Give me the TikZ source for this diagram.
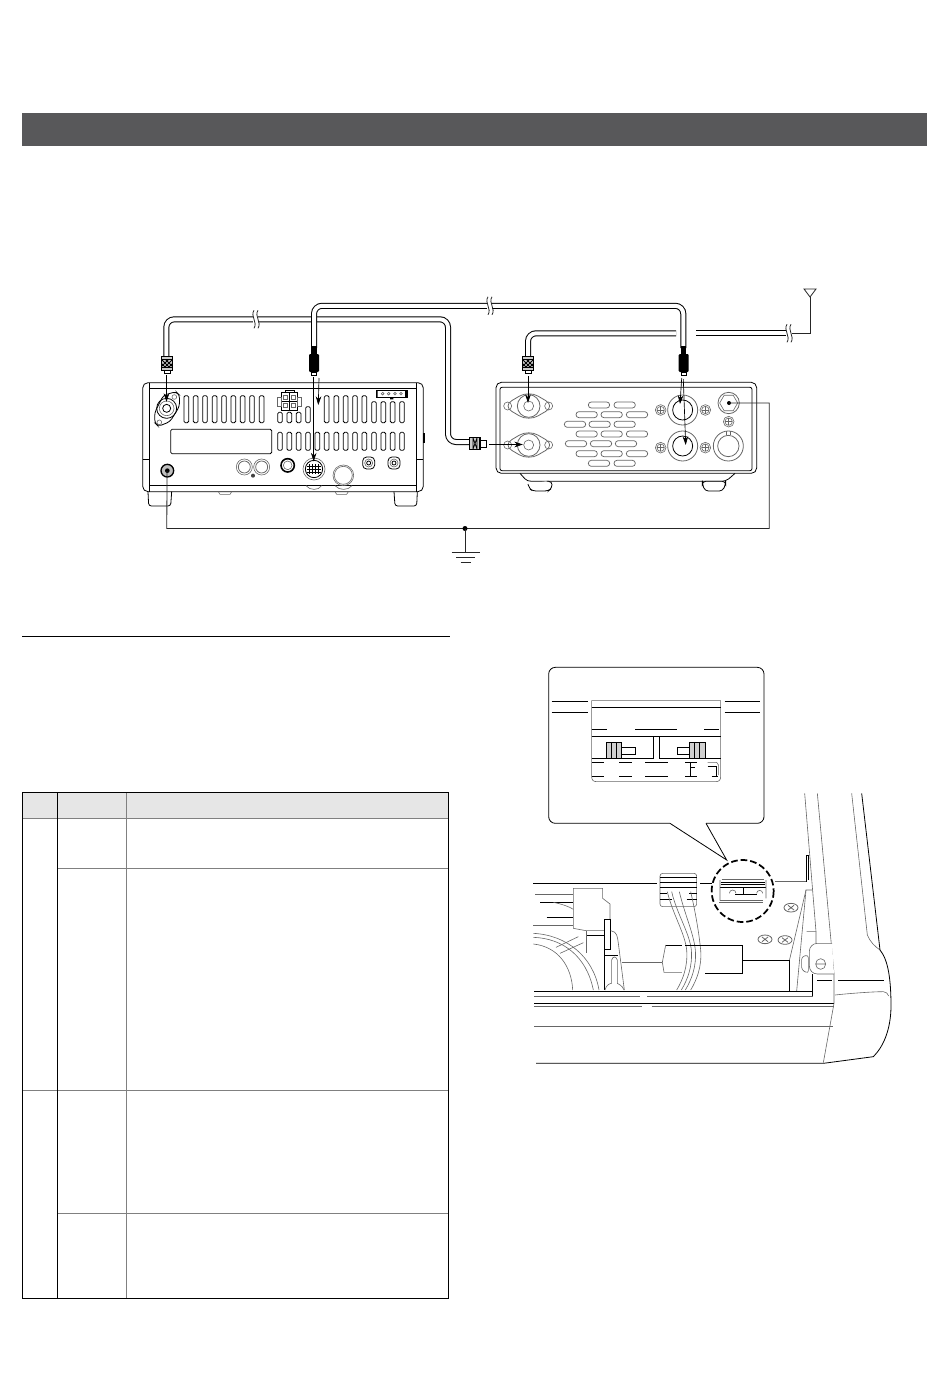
\documentclass[tikz,border=0pt]{standalone}
\usepackage{amsmath}
\usetikzlibrary{arrows.meta}
\definecolor{bandgray}{HTML}{58585A}
\definecolor{headgray}{HTML}{E6E6E6}
\definecolor{rulegray}{HTML}{808080}
\definecolor{fillgray}{HTML}{D0D0D0}
\tikzset{
  panel/.style={draw=black,line width=.6pt},
  fine/.style={draw=black!60,line width=.45pt},
  cable/.style={draw=black,line width=.75pt,double=white,double distance=3pt,rounded corners=6pt},
  wire/.style={draw=black!85,line width=.6pt},
  lead/.style={draw=black,line width=.5pt,-{Stealth[length=6.5pt,width=4.2pt]}},
}
\newcommand{\cablebreak}[2]{%
  \fill[white,shift={(#1,#2)}] (-2.5,-6) rectangle (2.5,6);
  \draw[wire,shift={(#1,#2)}] (-1,-9) .. controls (-5,-3) and (3,3) .. (-1,9);
  \draw[wire,shift={(#1,#2)}] (3,-9) .. controls (-1,-3) and (7,3) .. (3,9);
}
\begin{document}
\begin{tikzpicture}[x=.75pt,y=-.75pt]
\useasboundingbox (0,0) rectangle (950,1387);

% title band and rule
\fill[bandgray] (22,113) rectangle (927,146);
\draw[black,line width=.6pt] (22,636) -- (450,636);

% table
\fill[headgray] (22,792) rectangle (448,818);
\draw[rulegray,line width=.6pt] (22,818) -- (448,818) (57,868) -- (448,868) (22,1090) -- (448,1090) (57,1213) -- (448,1213) (126,792) -- (126,1298);
\draw[black,line width=.6pt] (22,792) rectangle (448,1298) (57,792) -- (57,1298);

% ---- left radio, rear view
\begin{scope}[shift={(120,280)},x=.25pt,y=-.25pt]
  \draw[panel,rounded corners=4pt] (68,308) rectangle (910,635);
  \draw[panel] (88,308) -- (88,635) (890,308) -- (890,635) (88,325) -- (890,325) (88,617) -- (890,617);
  \draw[panel] (68,538) -- (88,538) (890,538) -- (910,538);
  \fill[black] (910,458) rectangle (915,490);
  % feet
  \draw[panel,rounded corners=2pt] (84,635) -- (86,678) -- (152,678) -- (155,635);
  \draw[panel,rounded corners=2pt] (822,635) -- (825,678) -- (890,678) -- (892,635);
  \draw[fine] (295,635) -- (300,643) -- (330,643) -- (335,635) (645,635) -- (650,643) -- (680,643) -- (685,635);
  \draw[fine] (558,617) .. controls (570,632) and (595,632) .. (605,617) (645,617) .. controls (658,632) and (684,632) .. (696,617);
  % vents
  \foreach \vx in {192,220,248,277,305,333,361,389,418,613,642,670,698,726}
    \draw[panel,rounded corners=1pt] (\vx,347) rectangle ++(14,81);
  \foreach \vx in {755,783,811,839}
    \draw[panel,rounded corners=1pt] (\vx,365) rectangle ++(14,63);
  \draw[panel,rounded corners=1pt] (557,380) rectangle ++(14,48);
  \foreach \vx in {473,501,529}
    \draw[panel,rounded corners=1pt] (\vx,397) rectangle ++(14,31);
  \foreach \vx in {473,501,529,557,585,613,642,670,698,726,755,783,811,839}
    \draw[panel,rounded corners=1pt] (\vx,457) rectangle ++(14,54);
  \draw[panel,rounded corners=1pt] (152,448) rectangle (455,521);
  % antenna socket
  \draw[panel,rounded corners=2.5pt] (104,398) -- (130,346) -- (168,335) -- (179,346) -- (178,380) -- (150,425) -- (115,439) -- (104,428) -- cycle;
  \draw[panel] (140,385) circle [radius=30];
  \draw[fine] (140,385) circle [radius=22];
  \draw[panel] (140,385) circle [radius=12];
  \draw[fine] (163,351) circle [radius=7] (118,427) circle [radius=7];
  % dc socket
  \draw[panel] (484,338) rectangle (533,390) (508,338) -- (508,390) (484,364) -- (533,364);
  \draw[panel] (497,330) rectangle (522,338);
  \draw[fine] (471,352) rectangle (484,378) (533,352) rectangle (545,378);
  \foreach \px/\py in {490,514}{
    \draw[fine] (\px,345) rectangle ++(13,13);
    \draw[fine] (\px,370) rectangle ++(13,13);
  }
  % small block
  \draw[panel] (768,330) rectangle (862,352);
  \fill[black] (768,330) rectangle (773,352) (855,330) rectangle (862,352) (810,352) rectangle (820,358);
  \foreach \px in {788,806,825,843}
    \draw[fine] (\px,341) circle [radius=4];
  % lower row
  \draw[panel,line width=1pt,fill=black!25] (142,572) circle [radius=19];
  \fill[black] (142,572) circle [radius=7];
  \foreach \px in {373,425}{
    \draw[fine] (\px,561) circle [radius=24];
    \draw[fine,line width=.6pt] (\px,561) circle [radius=18];
  }
  \fill[black!75] (399,587) circle [radius=6];
  \draw[panel,line width=1.2pt] (503,556) circle [radius=20];
  \draw[fine] (503,556) circle [radius=13];
  \draw[fine] (582,567) circle [radius=33];
  \draw[panel] (582,567) circle [radius=26];
  \foreach \px in {568,577,586,595}
    \draw[panel] (\px,553) -- (\px,582);
  \foreach \py in {558,567,576}
    \draw[panel] (562,\py) -- (602,\py);
  \draw[fine] (670,586) circle [radius=31];
  \draw[fine] (670,586) circle [radius=27];
  \foreach \px in {746,822}{
    \draw[panel,rounded corners=3pt] (\px-18,531) rectangle (\px+18,567);
    \draw[fine] (\px,549) circle [radius=12];
    \draw[panel] (\px,549) circle [radius=6];
  }
\end{scope}

% ---- right tuner, rear view
\begin{scope}[shift={(450,280)},x=.25pt,y=-.25pt]
  \draw[panel,rounded corners=4pt] (138,307) rectangle (920,580);
  \draw[panel,rounded corners=1.5pt] (150,322) rectangle (906,572);
  % feet
  \draw[panel] (210,580) .. controls (222,592) and (226,604) .. (245,604) -- (810,604) .. controls (835,604) and (840,592) .. (855,580);
  \draw[panel,fill=white,rounded corners=2.5pt] (234,612) -- (238,626) -- (248,633) -- (295,633) -- (306,624) -- (306,604) -- (290,604);
  \draw[panel,fill=white,rounded corners=2.5pt] (757,612) -- (765,633) -- (818,633) -- (827,612) -- (827,604) -- (757,604) -- cycle;
  % sockets
  \foreach \fy in {378,495}{
    \draw[fine,line width=.6pt,rounded corners=8pt] (158,\fy) -- (236,\fy-46) -- (315,\fy) -- (236,\fy+46) -- cycle;
    \draw[fine] (173,\fy) circle [radius=12] (296,\fy) circle [radius=12];
    \draw[fine,line width=.6pt] (236,\fy) circle [radius=34];
    \draw[fine] (236,\fy) circle [radius=15];
  }
  % vent pills
  \foreach \py/\rowx in {375/{447,524},404/{410,485,561},433/{375,449,524},462/{410,485,561},491/{378,453,528},521/{410,485,561},550/{447,524}}
    \foreach \px in \rowx
      \draw[fine,line width=.55pt,rounded corners=2.2pt] ({\px-32},{\py-9}) rectangle ({\px+32},{\py+9});
  % right sockets
  \foreach \py in {390,498}{
    \draw[fine,line width=.6pt] (698,\py) circle [radius=45];
    \draw[panel] (698,\py) circle [radius=30];
  }
  \foreach \sx/\sy in {632/390,766/390,632/503,766/503,836/425}{
    \draw[fine] (\sx,\sy) circle [radius=16] (\sx,\sy) circle [radius=11];
    \draw[fine] ({\sx-11},\sy) -- ({\sx+11},\sy) (\sx,{\sy-11}) -- (\sx,{\sy+11});
  }
  \draw[fine,line width=.6pt] (836,369) circle [radius=32];
  \draw[fine,shift={(836,369)}] (0:27) -- (60:27) -- (120:27) -- (180:27) -- (240:27) -- (300:27) -- cycle;
  \draw[fine,line width=.6pt] (835,498) circle [radius=45];
  \draw[fine,line width=.6pt] (835,498) circle [radius=32];
  \draw[fine] (828,453) -- (828,466) (842,453) -- (842,466);
\end{scope}

% named ends of the leads and cables
\coordinate (antLeft) at (166.5,402);
\coordinate (antTop) at (528,403);
\coordinate (antBot) at (523,444.5);
\coordinate (acc) at (318.3,405);
\coordinate (din) at (313.7,461.5);
\coordinate (sockA) at (680,404);
\coordinate (sockB) at (685.7,445);
\coordinate (gndL) at (167,471);
\coordinate (gndR) at (729,403);
\coordinate (gndDot) at (465,528.5);
\coordinate (mast) at (810,297);

% coax from left radio to tuner
\draw[cable] (166.3,358) -- (166.3,319.3) -- (448,319.3) -- (448,442) -- (470,442);
\cablebreak{255}{319.3}
% coax from tuner to antenna
\draw[cable] (528,358) -- (528,333.3) -- (676,333.3);
\draw[cable] (696,333.3) -- (790,333.3);
\cablebreak{788}{333.3}
\draw[wire] (792,333.3) -- (810,333.3) -- (mast);
\draw[wire,fill=white] (mast) -- (804,289) -- (816,289) -- cycle;
% control cable
\draw[cable] (314,348) -- (314,305.8) -- (683.3,305.8) -- (683.3,348);
\cablebreak{489}{305.8}

% plugs
\foreach \cx/\cy in {167/363.5,528/363.5}{
  \draw[panel,fill=white,shift={(\cx,\cy)}] (-3,7) rectangle (3,10);
  \draw[panel,fill=black!20,line width=.8pt,shift={(\cx,\cy)}] (-5.5,-7) rectangle (5.5,7);
  \draw[panel,shift={(\cx,\cy)}] (-5.5,-4) -- (5.5,-4) (-5.5,4) -- (5.5,4) (-5.5,-4) -- (2.5,4) (5.5,-4) -- (-2.5,4) (-5.5,0) -- (-1.5,4) (5.5,0) -- (1.5,4) (-1.5,-4) -- (5.5,3) (1.5,-4) -- (-5.5,3);
}
\draw[panel,fill=white] (480,440.5) rectangle (486.5,447);
\draw[panel,fill=black!20,line width=.8pt] (469.5,437.5) rectangle (480,449.5);
\draw[panel] (473,437.5) -- (473,449.5) (477,437.5) -- (477,449.5) (473,438) -- (477,449) (477,438) -- (473,449);
\foreach \cx in {314,683.7}{
  \fill[black] (\cx-2.7,346) rectangle (\cx+2.7,356);
  \fill[black,rounded corners=.8pt] (\cx-5,354) rectangle (\cx+5,372);
  \draw[panel,fill=white] (\cx-2.7,372) rectangle (\cx+2.7,375);
}

% leads
\draw[lead] (166.5,375) -- (antLeft);
\draw[lead] (528,376) -- (antTop);
\draw[lead] (489,444.5) -- (antBot);
\draw[lead] (319,378) -- (acc);
\draw[lead] (313.7,377) -- (din);
\draw[lead] (681.7,378) -- (sockA);
\draw[lead] (683.3,379) -- (sockB);

% ground wire
\fill[black] (gndR) circle (2);
\draw[wire] (gndR) -- (769.3,403) -- (769.3,528.5) -- (gndDot) -- (166.8,528.5) -- (gndL);
\fill[black] (gndDot) circle (2.5);
\draw[wire] (gndDot) -- (465,552.5);
\draw[wire] (451.5,552.5) -- (479.5,552.5) (456,557.5) -- (475,557.5) (460.5,562.5) -- (470.5,562.5);

% ---- open case with detail
\begin{scope}[shift={(530,660)},x=.25pt,y=-.25pt]
  % callout
  \draw[panel,fill=white,rounded corners=5pt] (56,22) rectangle (702,490);
  \fill[white] (421,485) rectangle (527,495);
  \draw[panel] (420,490) -- (590,600) -- (528,490);
  % switch window
  \draw[fine] (185,122) -- (185,350) .. controls (185,360) and (190,365) .. (200,365) -- (557,365) .. controls (567,365) and (572,360) .. (572,350) -- (572,122) -- cycle;
  \draw[panel] (65,124) -- (175,124) (65,158) -- (175,158) (584,124) -- (690,124) (584,158) -- (690,158);
  \draw[panel] (185,142) -- (572,142) (185,208) -- (230,208) (315,208) -- (440,208) (522,208) -- (568,208);
  \draw[panel] (185,230) -- (572,230) (185,295) -- (370,295) -- (370,230) (388,230) -- (388,295) -- (572,295);
  \draw[panel,fill=fillgray] (228,248) rectangle (275,295);
  \draw[panel] (244,248) -- (244,295) (259,248) -- (259,295);
  \draw[panel] (275,262) rectangle (315,282);
  \draw[panel,fill=fillgray] (478,248) rectangle (525,295);
  \draw[panel] (494,248) -- (494,295) (509,248) -- (509,295);
  \draw[panel] (442,262) rectangle (478,282);
  \foreach \ly in {307,350}
    \draw[panel] (187,\ly) -- (222,\ly) (268,\ly) -- (305,\ly) (345,\ly) -- (415,\ly) (465,\ly) -- (500,\ly);
  \draw[panel] (480,307) -- (480,350) (480,322) -- (496,322);
  \draw[panel] (533,320) -- (558,320) -- (558,350) (545,350) -- (565,350);
  \draw[fine] (533,307) -- (560,307) -- (566,316) -- (566,345);
  % dashed ring
  \draw[black,line width=1.3pt,dash pattern=on 5pt off 2.2pt] (638,693) circle [radius=93];
  % inside the ring
  \draw[fine] (575,658) -- (702,658) (570,720) -- (700,720) (568,726) -- (698,726);
  \draw[panel] (572,667) -- (706,667) (572,674) -- (706,674) (570,683) -- (708,683) (640,683) -- (640,703) (615,703) -- (680,703);
  \draw[fine] (570,660) -- (570,722) (708,660) -- (708,715) (598,700) arc (180:360:10) (680,700) arc (180:360:9);
  % wall lines
  \draw[panel] (10,670) -- (380,670) (510,670) -- (545,670);
  \draw[fine] (735,663) -- (828,663);
  \draw[panel] (828,585) -- (828,665) (828,585) -- (835,585) -- (835,660);
  \draw[fine] (778,902) -- (828,690) -- (848,690);
  \draw[panel] (638,902) -- (778,902) -- (778,993);
  % left block
  \draw[fine,fill=white] (130,685) -- (218,685) -- (218,715) -- (240,732) -- (240,812) -- (168,812) -- (130,805) -- cycle;
  \draw[panel] (30,727) -- (130,727) (50,773) -- (130,773) (170,825) -- (223,825);
  \draw[fine] (15,703) -- (130,703) (10,797) -- (130,797) (168,812) -- (168,880);
  \draw[fine] (70,727) .. controls (95,732) and (118,740) .. (130,748);
  \draw[panel,fill=white] (223,778) rectangle (242,868);
  % wheel arcs
  \draw[fine] (10,820) .. controls (110,825) and (190,890) .. (207,990);
  \draw[fine] (10,832) .. controls (100,835) and (170,890) .. (190,990);
  \draw[fine] (10,852) .. controls (85,860) and (125,920) .. (128,990);
  \draw[fine] (78,862) -- (145,830) (90,880) -- (160,848);
  % post
  \draw[panel] (223,868) -- (223,990) (223,885) -- (265,885);
  \draw[fine] (242,812) .. controls (262,815) and (262,830) .. (265,850) -- (283,990);
  \draw[fine] (245,970) -- (245,900) .. controls (248,888) and (258,888) .. (262,900) -- (262,970) .. controls (278,978) and (280,985) .. (282,990) (225,990) .. controls (228,975) and (240,970) .. (245,970);
  % motor
  \draw[fine] (275,907) -- (397,907);
  \draw[panel] (407,855) -- (637,855) -- (637,940) -- (525,940);
  \draw[fine] (407,855) -- (397,907) -- (402,937) -- (465,937);
  % cable bundle
  \draw[fine,fill=white,rounded corners=2pt] (390,640) rectangle (500,740);
  \draw[panel] (390,652) -- (500,652) (390,668) -- (500,668) (390,682) -- (500,682) (390,700) -- (412,700) (477,700) -- (500,700) (390,718) -- (425,718) (470,718) -- (500,718);
  \fill[white] (455,855) rectangle (525,942);
  \foreach \wx/\wz in {412/0,425/14,448/26,482/42}
    \draw[fine] (\wx,695) .. controls ({\wx+15},760) and ({465+\wz},820) .. ({470+\wz},870) .. controls ({474+\wz},920) and ({458+\wz},960) .. ({440+\wz},990);
  \draw[panel] (465,855) -- (525,855);
  % right wall
  \draw[fine] (824,400) -- (858,815) (862,400) -- (912,940) -- (912,1030);
  \draw[fine] (965,400) -- (1012,825) .. controls (1020,845) and (1035,860) .. (1050,870);
  \draw[panel] (995,400) -- (1050,870);
  \draw[fine] (800,993) -- (828,690) (830,815) -- (858,815) -- (858,850);
  \draw[fine,rounded corners=2pt] (815,890) -- (835,885) -- (835,940) -- (815,930) -- cycle;
  \draw[fine,fill=white,rounded corners=6pt] (906,850) -- (838,850) -- (838,942) -- (912,942);
  \draw[fine] (872,912) ellipse [x radius=15,y radius=16] (858,912) -- (886,912);
  % screws
  \foreach \sx/\sy in {783/743,705/838,765/840}{
    \draw[fine,line width=.6pt] (\sx,\sy) ellipse [x radius=21,y radius=13];
    \draw[fine,line width=.6pt] ({\sx-9},{\sy-7}) -- ({\sx+9},{\sy+7}) ({\sx+9},{\sy-7}) -- ({\sx-9},{\sy+7});
  }
  % case front
  \draw[panel] (12,993) -- (848,993) (848,942) -- (848,1010);
  \draw[panel] (862,960) -- (905,960) (925,960) -- (1062,960);
  \draw[fine] (12,1008) -- (330,1008) (352,1008) -- (848,1008);
  \draw[panel] (12,1030) -- (912,1030);
  \draw[fine] (12,1040) -- (335,1040) (365,1040) -- (912,1040) (12,1100) -- (910,1100);
  \draw[fine] (915,1005) .. controls (960,1000) and (1030,995) .. (1060,995) .. controls (1068,996) and (1074,1000) .. (1076,1008);
  \draw[fine] (912,1030) -- (880,1208);
  \draw[panel] (18,1210) -- (880,1210) -- (1030,1190) .. controls (1060,1160) and (1082,1110) .. (1083,1040) .. controls (1083,960) and (1075,900) .. (1050,870);
\end{scope}
\end{tikzpicture}
\end{document}
